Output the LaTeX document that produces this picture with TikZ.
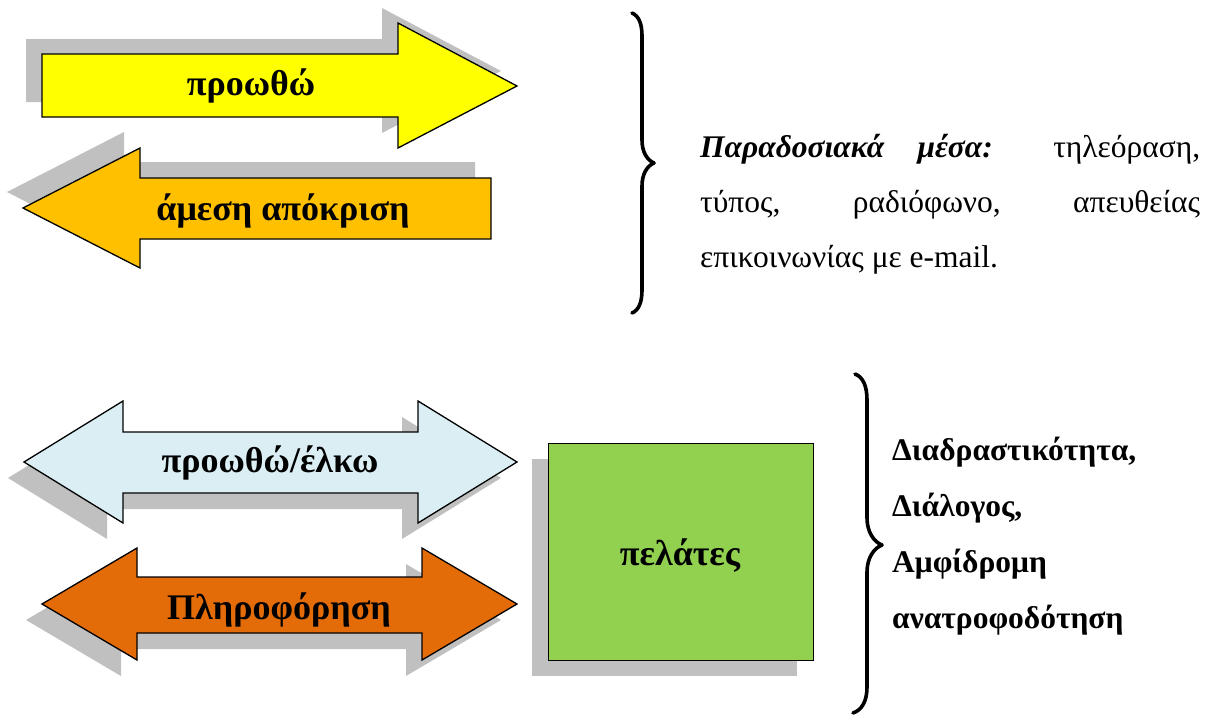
\documentclass[tikz,border=0pt]{standalone}
\usepackage{fontspec}
\setmainfont{Liberation Serif}
\definecolor{yel}{HTML}{FFFF00}
\definecolor{orng}{HTML}{FFC000}
\definecolor{lblue}{HTML}{DAEEF3}
\definecolor{dorng}{HTML}{E36C09}
\definecolor{grn}{HTML}{92D050}
\definecolor{shd}{HTML}{C0C0C0}
\tikzset{
  arrowshape/.style={draw=black, line width=1.3pt, line join=miter},
  shadowshape/.style={fill=shd, draw=none},
  biglabel/.style={font=\fontsize{36}{40}\selectfont\bfseries, inner sep=0pt, anchor=base},
  bodytext/.style={font=\fontsize{31.5}{36}\selectfont, inner sep=0pt, anchor=base west},
  bracestyle/.style={line width=3.6pt, line cap=round, line join=round},
}
\begin{document}
\begin{tikzpicture}[x=1pt, y=-1pt]
\useasboundingbox (0,0) rectangle (1210,715);
% ---- shadows ----
\fill[shadowshape, shift={(-16,-15)}] (42,54)--(398,54)--(398,23)--(517,86)--(398,148)--(398,117)--(42,117)--cycle;
\fill[shadowshape, shift={(-16,-16)}] (491,178)--(140,178)--(140,148)--(23,208)--(140,268)--(140,239)--(491,239)--cycle;
\fill[shadowshape, shift={(-16,16)}] (24,462)--(123,401)--(123,432)--(418,432)--(418,401)--(517,462)--(418,523)--(418,493)--(123,493)--(123,523)--cycle;
\fill[shadowshape, shift={(-16,16)}] (42,604)--(137,548)--(137,577)--(422,577)--(422,548)--(517,604)--(422,660)--(422,633)--(137,633)--(137,660)--cycle;
\fill[shadowshape] (532,459) rectangle (797,676);
% ---- arrows ----
\filldraw[arrowshape, fill=yel] (42,54)--(398,54)--(398,23)--(517,86)--(398,148)--(398,117)--(42,117)--cycle;
\filldraw[arrowshape, fill=orng] (491,178)--(140,178)--(140,148)--(23,208)--(140,268)--(140,239)--(491,239)--cycle;
\filldraw[arrowshape, fill=lblue] (24,462)--(123,401)--(123,432)--(418,432)--(418,401)--(517,462)--(418,523)--(418,493)--(123,493)--(123,523)--cycle;
\filldraw[arrowshape, fill=dorng] (42,604)--(137,548)--(137,577)--(422,577)--(422,548)--(517,604)--(422,660)--(422,633)--(137,633)--(137,660)--cycle;
\node[draw=black, line width=1.3pt, fill=grn, minimum width=265pt, minimum height=217pt, anchor=north west, inner sep=0pt] (clients) at (548,443) {};
% ---- labels ----
\node[biglabel] (push) at (251,95) {προωθώ};
\node[biglabel] (reply) at (283,220) {άμεση απόκριση};
\node[biglabel] (pushpull) at (270,472) {προωθώ/έλκω};
\node[biglabel] (info) at (279,619) {Πληροφόρηση};
\node[biglabel] (clientlbl) at (680,565) {πελάτες};
% ---- braces ----
\draw[bracestyle] (632,13) .. controls (639,16) and (642,24) .. (642,36) -- (642,140) .. controls (642,152) and (647,160) .. (654,163) .. controls (647,166) and (642,174) .. (642,186) -- (642,290) .. controls (642,302) and (639,310) .. (632,313);
\draw[bracestyle] (855,374) .. controls (863,377) and (867,386) .. (867,400) -- (867,518) .. controls (867,532) and (874,542) .. (882,545) .. controls (874,548) and (867,558) .. (867,572) -- (867,687) .. controls (867,701) and (862,710) .. (853,713);
% ---- texts ----
\node[bodytext] (trad1) at (700,157) {\makebox[500pt][s]{\textbf{\textit{Παραδοσιακά}} \textbf{\textit{μέσα:}} τηλεόραση,}};
\node[bodytext] (trad2) at (700,212) {\makebox[500pt][s]{τύπος, ραδιόφωνο, απευθείας}};
\node[bodytext] (trad3) at (700,267) {επικοινωνίας με e-mail.};
\node[bodytext, font=\fontsize{31.5}{36}\selectfont\bfseries] (inter1) at (892,460) {Διαδραστικότητα,};
\node[bodytext, font=\fontsize{31.5}{36}\selectfont\bfseries] (inter2) at (892,516) {Διάλογος,};
\node[bodytext, font=\fontsize{31.5}{36}\selectfont\bfseries] (inter3) at (892,572) {Αμφίδρομη};
\node[bodytext, font=\fontsize{31.5}{36}\selectfont\bfseries] (inter4) at (892,628) {ανατροφοδότηση};
\end{tikzpicture}
\end{document}
